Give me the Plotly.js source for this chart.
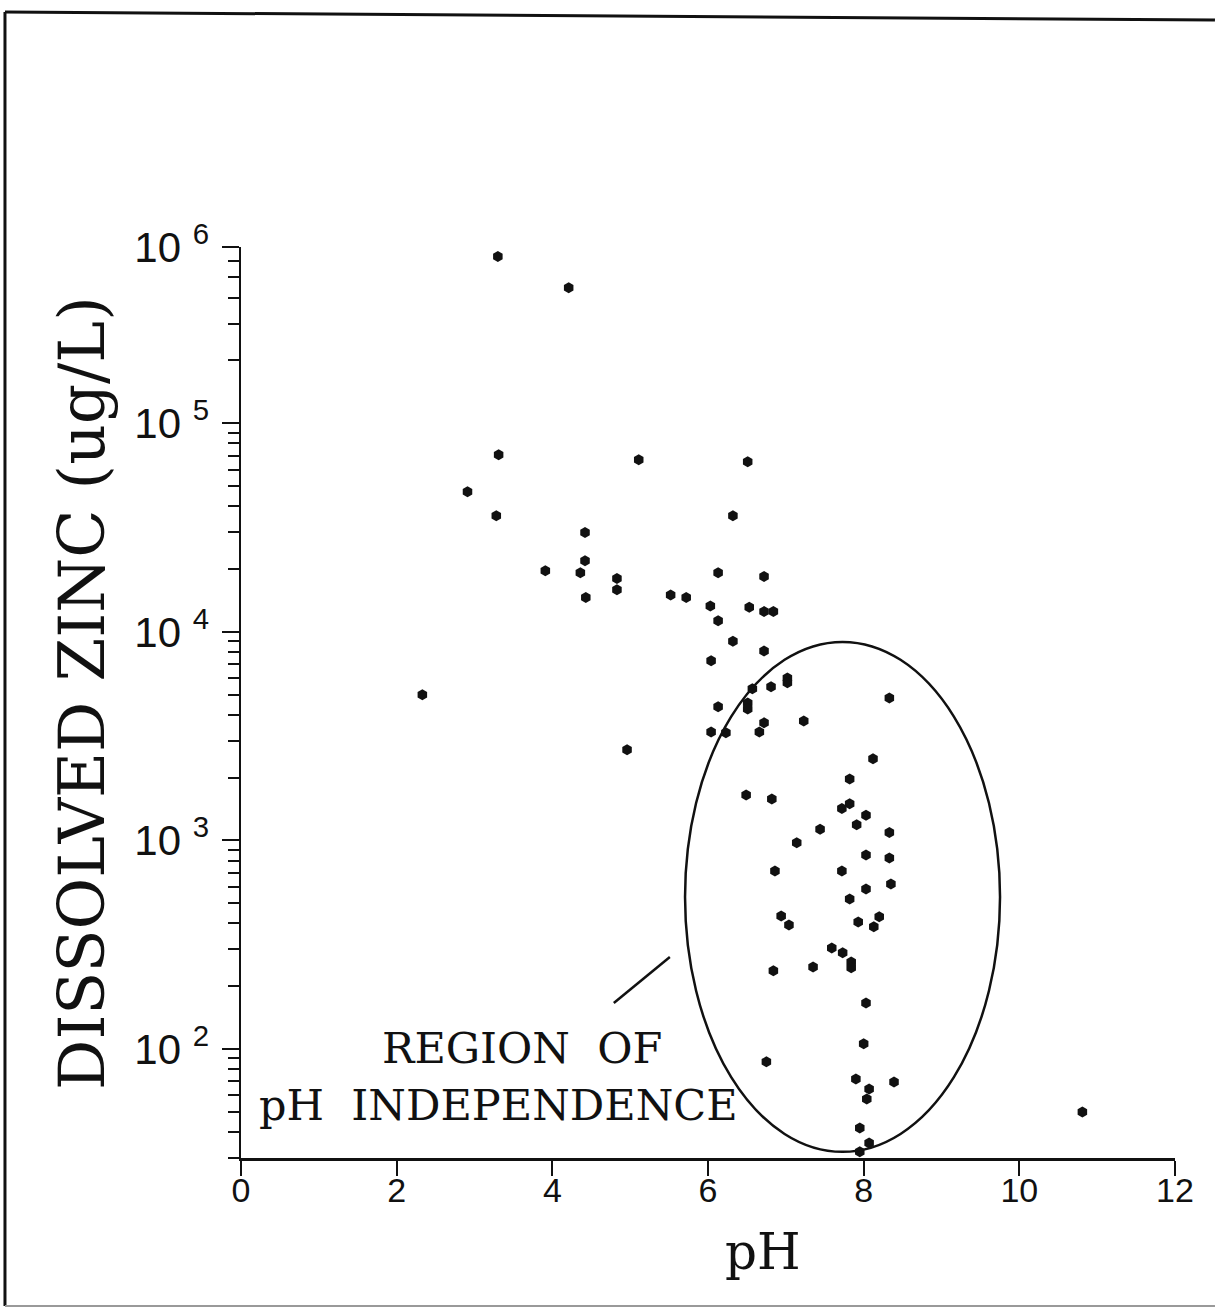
<!DOCTYPE html>
<html>
<head>
<meta charset="utf-8">
<script src="https://cdn.plot.ly/plotly-3.0.1.min.js"></script>
<style>html,body{margin:0;padding:0;background:#fff;}#chart{width:1215px;height:1313px;}</style>
</head>
<body>
<div id="chart"></div>
<script>
// pH values of samples
const phValues = [
  3.30, 4.21, 3.31, 5.11, 6.51, 2.91, 3.28, 6.32, 4.42, 4.42,
  3.91, 4.36, 4.83, 4.83, 4.43, 5.52, 5.72, 6.13, 6.72, 6.03,
  6.53, 6.72, 6.84, 6.13, 6.32, 6.72, 6.04, 6.57, 6.81, 7.02,
  7.02, 6.51, 6.51, 6.13, 6.72, 6.66, 6.04, 6.23, 7.23, 8.33,
  4.96, 8.12, 7.82, 6.49, 6.82, 2.33, 10.81,
  7.82, 7.72, 8.03, 7.91, 7.44, 8.33, 7.14, 8.03, 8.33, 6.86,
  7.72, 8.35, 8.03, 7.82, 6.94, 7.04, 7.93, 8.20, 8.13, 7.59,
  7.73, 7.84, 7.84, 7.35, 6.84, 8.03, 8.00, 6.75, 7.90, 8.39,
  8.07, 8.04, 7.95, 8.07, 7.95
];
// dissolved zinc, ug/L
const zincValues = [
  630000, 447000, 70600, 66800, 65300, 46900, 36000, 36000, 29900, 21900,
  19600, 19200, 18000, 15900, 14600, 15000, 14600, 19200, 18400, 13300,
  13100, 12500, 12500, 11300, 9000, 8100, 7260, 5330, 5450, 6000,
  5700, 4560, 4270, 4370, 3660, 3310, 3310, 3280, 3740, 4820,
  2720, 2460, 1970, 1650, 1580, 4990, 49.9,
  1500, 1420, 1320, 1190, 1130, 1090, 973, 851, 824, 714,
  714, 618, 585, 524, 434, 393, 406, 430, 385, 305,
  289, 261, 245, 247, 237, 166, 106, 86.7, 71.8, 69.5,
  64.3, 57.5, 41.8, 35.4, 32.1
];
// axis ticks
const xTickVals = [0, 2, 4, 6, 8, 10, 12];
const xTickText = ["0", "2", "4", "6", "8", "10", "12"];
const yTickVals = [100, 1000, 10000, 100000, 700000];
const yTickText = ["10 <sup>2</sup>", "10 <sup>3</sup>", "10 <sup>4</sup>", "10 <sup>5</sup>", "10 <sup>6</sup>"];
const yMinorVals = [30, 40, 50, 60, 70, 80, 90,
  200, 300, 400, 500, 600, 700, 800, 900,
  2000, 3000, 4000, 5000, 6000, 7000, 8000, 9000,
  20000, 30000, 40000, 50000, 60000, 70000, 80000, 90000,
  200000, 300000, 400000, 500000, 600000];
// annotated region (ellipse bounds) and leader line
const regionX = [5.705, 9.752];
const regionY = [32.1, 8945];
const leaderX = [4.79, 5.51];
const leaderY = [166, 276];

const serif = "DejaVu Serif, Liberation Serif, serif";
const sans = "Liberation Sans, Arial, sans-serif";

const trace = {
  x: phValues, y: zincValues, type: "scatter", mode: "markers",
  marker: {symbol: "hexagon", size: 11, color: "#111"},
  hoverinfo: "x+y", showlegend: false
};

const layout = {
  width: 1215, height: 1313,
  margin: {l: 241, r: 40, t: 247, b: 155},
  paper_bgcolor: "#fff", plot_bgcolor: "#fff",
  showlegend: false,
  xaxis: {
    range: [0, 12], tickmode: "array", tickvals: xTickVals, ticktext: xTickText,
    ticks: "outside", ticklen: 15, tickwidth: 2, tickcolor: "#111",
    ticklabelstandoff: -14,
    showline: true, linecolor: "#111", linewidth: 2.5,
    showgrid: false, zeroline: false,
    tickfont: {family: sans, size: 34, color: "#111"}
  },
  yaxis: {
    type: "log", range: [Math.log10(30), Math.log10(700000)],
    tickmode: "array", tickvals: yTickVals, ticktext: yTickText,
    ticks: "outside", ticklen: 17, tickwidth: 2, tickcolor: "#111",
    ticklabelstandoff: 4,
    minor: {tickmode: "array", tickvals: yMinorVals, ticks: "outside", ticklen: 11, tickwidth: 2, tickcolor: "#111", showgrid: false},
    showline: true, linecolor: "#111", linewidth: 2.5,
    showgrid: false, zeroline: false,
    tickfont: {family: sans, size: 42, color: "#111"}
  },
  shapes: [
    {type: "circle", xref: "x", yref: "y", x0: regionX[0], x1: regionX[1], y0: regionY[0], y1: regionY[1],
     line: {color: "#111", width: 2.5}},
    {type: "line", xref: "x", yref: "y", x0: leaderX[0], x1: leaderX[1], y0: leaderY[0], y1: leaderY[1],
     line: {color: "#111", width: 2.5}},
    // page frame
    {type: "line", xref: "paper", yref: "paper", x0: -0.2527, x1: 1.0428, y0: 1.258, y1: 1.2492, line: {color: "#111", width: 3}},
    {type: "line", xref: "paper", yref: "paper", x0: -0.2527, x1: -0.2527, y0: 1.258, y1: -0.1625, line: {color: "#111", width: 3}},
    {type: "line", xref: "paper", yref: "paper", x0: -0.2527, x1: 1.0428, y0: -0.1625, y1: -0.1625, line: {color: "#999", width: 2}}
  ],
  annotations: [
    {text: "DISSOLVED ZINC (ug/L)", xref: "paper", yref: "paper", x: -0.1702, y: 0.5104,
     xanchor: "center", yanchor: "middle", textangle: -90, showarrow: false,
     font: {family: serif, size: 63, color: "#111"}},
    {text: "pH", xref: "paper", yref: "paper", x: 0.5589, y: -0.1030,
     xanchor: "center", yanchor: "middle", showarrow: false,
     font: {family: serif, size: 50, color: "#111"}},
    {text: "REGION  OF", xref: "paper", yref: "paper", x: 0.3009, y: 0.1207,
     xanchor: "center", yanchor: "middle", showarrow: false,
     font: {family: serif, size: 43, color: "#111"}},
    {text: "pH  INDEPENDENCE", xref: "paper", yref: "paper", x: 0.2752, y: 0.0582,
     xanchor: "center", yanchor: "middle", showarrow: false,
     font: {family: serif, size: 43, color: "#111"}}
  ]
};

Plotly.newPlot("chart", [trace], layout, {displayModeBar: false, staticPlot: true});
</script>
</body>
</html>
